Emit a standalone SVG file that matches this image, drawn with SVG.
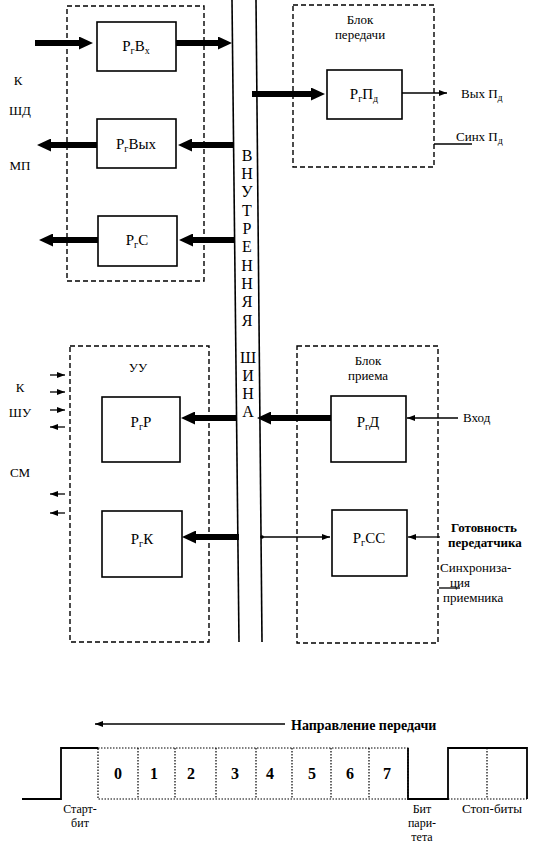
<svg xmlns="http://www.w3.org/2000/svg" width="549" height="846" viewBox="0 0 549 846">
<defs>
<marker id="thick" markerUnits="userSpaceOnUse" markerWidth="14" markerHeight="13" refX="5" refY="6.5" orient="auto"><path d="M0,0 L14,6.5 L0,13 z" fill="#000"/></marker>
<marker id="thin" markerUnits="userSpaceOnUse" markerWidth="8" markerHeight="6" refX="8" refY="3" orient="auto"><path d="M0,0 L8,3 L0,6 z" fill="#000"/></marker>
<marker id="dot" markerUnits="userSpaceOnUse" markerWidth="4" markerHeight="4" refX="2" refY="2"><circle cx="2" cy="2" r="1.8" fill="#000"/></marker>
<style>
text{font-family:"Liberation Serif","DejaVu Serif","Times New Roman",serif;fill:#000}
.dash{fill:none;stroke:#000;stroke-width:1.4;stroke-dasharray:5,3}
.box{fill:#fff;stroke:#000;stroke-width:1.6}
.rg{font-size:15px;text-anchor:middle}
.sub{font-size:10px}
.lbl{font-size:13px}
.sm{font-size:12px}
.bold{font-weight:bold}
.tk{stroke:#000;stroke-width:6;fill:none;marker-end:url(#thick)}
.tn{stroke:#000;stroke-width:1.3;fill:none}
.bus{stroke:#000;stroke-width:1.6}
.dotl{stroke:#000;stroke-width:1.2;stroke-dasharray:1.5,1.5;fill:none}
.sol{stroke:#000;stroke-width:1.8;fill:none}
.bl{font-size:16px;text-anchor:middle}
.dig{font-size:16px;font-weight:bold;text-anchor:middle}
</style>
</defs>
<rect width="549" height="846" fill="#fff"/>

<g id="bus">
<line class="bus" x1="232" y1="0" x2="239" y2="642"/>
<line class="bus" x1="256" y1="0" x2="262" y2="642"/>
<text class="bl" x="247" y="161">В</text>
<text class="bl" x="247" y="179">Н</text>
<text class="bl" x="247" y="197">У</text>
<text class="bl" x="247" y="216">Т</text>
<text class="bl" x="247" y="234">Р</text>
<text class="bl" x="247" y="252">Е</text>
<text class="bl" x="247" y="271">Н</text>
<text class="bl" x="247" y="289">Н</text>
<text class="bl" x="247" y="307">Я</text>
<text class="bl" x="247" y="326">Я</text>
<text class="bl" x="248" y="363">Ш</text>
<text class="bl" x="248" y="381">И</text>
<text class="bl" x="248" y="399">Н</text>
<text class="bl" x="248" y="417">А</text>
</g>

<g id="block-top-left">
<rect class="dash" x="67" y="6" width="137" height="275"/>
</g>
<g id="rg-vx">
<rect class="box" x="97" y="22" width="79" height="49"/>
<text class="rg" x="136" y="51">Р<tspan class="sub" dy="3">г</tspan><tspan dy="-3">В</tspan><tspan class="sub" dy="3">х</tspan></text>
</g>
<g id="rg-vyh">
<rect class="box" x="97" y="119" width="79" height="49"/>
<text class="rg" x="136" y="149">Р<tspan class="sub" dy="3">г</tspan><tspan dy="-3">Вых</tspan></text>
</g>
<g id="rg-c">
<rect class="box" x="98" y="216" width="79" height="50"/>
<text class="rg" x="137" y="245">Р<tspan class="sub" dy="3">г</tspan><tspan dy="-3">С</tspan></text>
</g>
<g id="labels-left-top">
<text class="lbl" x="18" y="85" text-anchor="middle">К</text>
<text class="lbl" x="20" y="115" text-anchor="middle">ШД</text>
<text class="lbl" x="20" y="170" text-anchor="middle">МП</text>
</g>

<g id="block-tx">
<rect class="dash" x="293" y="5" width="141" height="162"/>
<text class="lbl" x="360" y="24" text-anchor="middle">Блок</text>
<text class="lbl" x="360" y="39" text-anchor="middle">передачи</text>
</g>
<g id="rg-pd">
<rect class="box" x="327" y="70" width="75" height="49"/>
<text class="rg" x="364" y="99">Р<tspan class="sub" dy="3">г</tspan><tspan dy="-3">П</tspan><tspan class="sub" dy="3">д</tspan></text>
</g>
<g id="labels-tx">
<text class="lbl" x="461" y="98">Вых П<tspan class="sub" dy="3">д</tspan></text>
<text class="lbl" x="456" y="141">Синх П<tspan class="sub" dy="3">д</tspan></text>
</g>

<g id="block-uu">
<rect class="dash" x="70" y="346" width="139" height="296"/>
<text class="lbl" x="138" y="372" text-anchor="middle">УУ</text>
</g>
<g id="rg-r">
<rect class="box" x="102" y="397" width="78" height="65"/>
<text class="rg" x="141" y="427">Р<tspan class="sub" dy="3">г</tspan><tspan dy="-3">Р</tspan></text>
</g>
<g id="rg-k">
<rect class="box" x="102" y="511" width="80" height="66"/>
<text class="rg" x="142" y="544">Р<tspan class="sub" dy="3">г</tspan><tspan dy="-3">К</tspan></text>
</g>
<g id="labels-left-bottom">
<text class="lbl" x="20" y="392" text-anchor="middle">К</text>
<text class="lbl" x="20" y="417" text-anchor="middle">ШУ</text>
<text class="lbl" x="20" y="477" text-anchor="middle">СМ</text>
</g>

<g id="block-rx">
<rect class="dash" x="297" y="346" width="141" height="297"/>
<text class="lbl" x="368" y="365" text-anchor="middle">Блок</text>
<text class="lbl" x="368" y="380" text-anchor="middle">приема</text>
</g>
<g id="rg-d">
<rect class="box" x="331" y="396" width="75" height="66"/>
<text class="rg" x="368" y="427">Р<tspan class="sub" dy="3">г</tspan><tspan dy="-3">Д</tspan></text>
</g>
<g id="rg-cc">
<rect class="box" x="332" y="510" width="75" height="66"/>
<text class="rg" x="369" y="543">Р<tspan class="sub" dy="3">г</tspan><tspan dy="-3">СС</tspan></text>
</g>
<g id="labels-rx">
<text class="lbl" x="463" y="422">Вход</text>
<text class="lbl bold" x="451" y="532">Готовность</text>
<text class="lbl bold" x="448" y="547">передатчика</text>
<text class="lbl" x="440" y="572">Синхрониза-</text>
<text class="lbl" x="460" y="587" text-anchor="middle">ция</text>
<text class="lbl" x="443" y="602">приемника</text>
</g>

<g id="connectors">
<path class="tk" d="M35,43 H84"/>
<path class="tk" d="M176,43 H223"/>
<path class="tk" d="M97,145 H46"/>
<path class="tk" d="M233,145 H187"/>
<path class="tk" d="M98,240 H48"/>
<path class="tk" d="M234,240 H188"/>
<path class="tk" d="M252,94 H316"/>
<path class="tk" d="M237,418 H190"/>
<path class="tk" d="M331,418 H266"/>
<path class="tk" d="M239,537 H191"/>
<path class="tn" d="M402,93 H447" marker-end="url(#thin)"/>
<path class="tn" d="M434,144 H472"/>
<path class="tn" d="M458,418 H407" marker-end="url(#thin)"/>
<path class="tn" d="M262,537 H330" marker-start="url(#dot)" marker-end="url(#thin)"/>
<path class="tn" d="M440,537 H408" marker-end="url(#thin)"/>
<path class="tn" d="M439,588 H460"/>
<path class="tn" d="M50,375 H65" marker-end="url(#thin)"/>
<path class="tn" d="M50,392 H65" marker-end="url(#thin)"/>
<path class="tn" d="M50,410 H65" marker-end="url(#thin)"/>
<path class="tn" d="M65,427 H50" marker-end="url(#thin)"/>
<path class="tn" d="M65,494 H50" marker-end="url(#thin)"/>
<path class="tn" d="M65,513 H50" marker-end="url(#thin)"/>
</g>

<g id="frame">
<path class="tn" d="M285,724 H95" stroke-width="1.6" marker-end="url(#thin)"/>
<text x="291" y="730" font-size="14" font-weight="bold">Направление передачи</text>
<path class="sol" d="M22,799 H61 V748 H98"/>
<rect class="dotl" x="98" y="748" width="310" height="51"/>
<path class="dotl" d="M138,748 V799 M175,748 V799 M216,748 V799 M256,748 V799 M292,748 V799 M331,748 V799 M369,748 V799 M487,748 V799 M448,799 H527"/>
<path class="sol" d="M408,748 V799 H448 V748 H527 V799"/>
<text class="dig" x="118" y="779">0</text>
<text class="dig" x="154" y="779">1</text>
<text class="dig" x="191" y="779">2</text>
<text class="dig" x="235" y="779">3</text>
<text class="dig" x="270" y="779">4</text>
<text class="dig" x="312" y="779">5</text>
<text class="dig" x="350" y="779">6</text>
<text class="dig" x="387" y="779">7</text>
<text class="sm" x="80" y="813" text-anchor="middle">Старт-</text>
<text class="sm" x="80" y="827" text-anchor="middle">бит</text>
<text class="sm" x="422" y="813" text-anchor="middle">Бит</text>
<text class="sm" x="422" y="827" text-anchor="middle">пари-</text>
<text class="sm" x="422" y="841" text-anchor="middle">тета</text>
<text class="lbl" x="492" y="813" text-anchor="middle">Стоп-биты</text>
</g>
</svg>
